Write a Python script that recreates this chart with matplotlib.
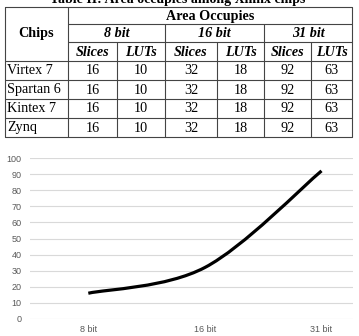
import matplotlib.pyplot as plt
from matplotlib.path import Path
from matplotlib.patches import PathPatch

chips = ['Virtex 7', 'Spartan 6', 'Kintex 7', 'Zynq']
bit_groups = ['8 bit', '16 bit', '31 bit']
sub_cols = ['Slices', 'LUTs']
slices = [16, 32, 92]
luts = [10, 18, 63]
title = 'Table II: Area occupies among Xilinx chips'

W, H = 359, 336
fig = plt.figure(figsize=(W / 100, H / 100), dpi=100)
fig.patch.set_facecolor('white')

serif = ['Liberation Serif', 'DejaVu Serif']
sans = ['Liberation Sans', 'DejaVu Sans']

# title, cut off at the top edge like in the screenshot
fig.text(178 / W, 1.0, title, ha='center', va='center', fontsize=10,
         family=serif, fontweight='bold')

# ---- table ----
tx0, tx1, ty0, ty1 = 5, 352, 7, 137
tax = fig.add_axes([tx0 / W, 1 - ty1 / H, (tx1 - tx0) / W, (ty1 - ty0) / H])
tax.set_xlim(tx0, tx1)
tax.set_ylim(ty1, ty0)
tax.axis('off')

cols = [5, 68, 117, 165, 217, 264, 311, 352]
rows = [7, 24, 42, 61, 80, 99, 118, 137]
lc = '#444444'
lw = 0.8
kw = dict(color=lc, lw=lw, clip_on=False, solid_capstyle='butt')
# outer box
tax.plot([tx0, tx1, tx1, tx0, tx0], [ty0, ty0, ty1, ty1, ty0], **kw)
tax.plot([cols[1], cols[1]], [ty0, ty1], **kw)
tax.plot([cols[1], tx1], [rows[1], rows[1]], **kw)
tax.plot([cols[1], tx1], [rows[2], rows[2]], **kw)
for r in rows[3:-1]:
    tax.plot([tx0, tx1], [r, r], **kw)
for c in (cols[3], cols[5]):
    tax.plot([c, c], [rows[1], ty1], **kw)
for c in (cols[2], cols[4], cols[6]):
    tax.plot([c, c], [rows[2], ty1], **kw)

fs = 10.2
tax.text((cols[0] + cols[1]) / 2, (rows[0] + rows[3]) / 2, 'Chips',
         ha='center', va='center', fontsize=fs, family=serif, fontweight='bold')
tax.text((cols[1] + cols[7]) / 2, (rows[0] + rows[1]) / 2 + 1, 'Area Occupies',
         ha='center', va='center', fontsize=fs, family=serif, fontweight='bold')
for i, g in enumerate(bit_groups):
    xc = (cols[1 + 2 * i] + cols[3 + 2 * i]) / 2
    tax.text(xc, (rows[1] + rows[2]) / 2 + 0.5, g, ha='center', va='center',
             fontsize=fs, family=serif, fontweight='bold', style='italic')
    for j, s in enumerate(sub_cols):
        xs = (cols[1 + 2 * i + j] + cols[2 + 2 * i + j]) / 2
        tax.text(xs, (rows[2] + rows[3]) / 2 + 0.5, s, ha='center', va='center',
                 fontsize=fs, family=serif, fontweight='bold', style='italic')
for k, chip in enumerate(chips):
    yc = (rows[3 + k] + rows[4 + k]) / 2 + 0.5
    tax.text(cols[0] + 2, yc, chip, ha='left', va='center', fontsize=fs, family=serif)
    for i in range(3):
        for j, v in enumerate((slices[i], luts[i])):
            xs = (cols[1 + 2 * i + j] + cols[2 + 2 * i + j]) / 2
            tax.text(xs, yc, str(v), ha='center', va='center', fontsize=fs, family=serif)

# ---- line chart ----
ax = fig.add_axes([30 / W, 1 - 319 / H, (353 - 30) / W, (319 - 158) / H])
x = list(range(len(bit_groups)))
y = slices

# smoothed line (Catmull-Rom style bezier, like Excel smoothing)
pts = list(zip(x, y))
verts = [pts[0]]
codes = [Path.MOVETO]
for i in range(len(pts) - 1):
    p0 = pts[max(i - 1, 0)]
    p1 = pts[i]
    p2 = pts[i + 1]
    p3 = pts[min(i + 2, len(pts) - 1)]
    c1 = (p1[0] + (p2[0] - p0[0]) / 6, p1[1] + (p2[1] - p0[1]) / 6)
    c2 = (p2[0] - (p3[0] - p1[0]) / 6, p2[1] - (p3[1] - p1[1]) / 6)
    verts += [c1, c2, p2]
    codes += [Path.CURVE4] * 3
ax.add_patch(PathPatch(Path(verts, codes), fill=False, edgecolor='black',
                       lw=2.3, capstyle='butt', zorder=3))

ax.set_xlim(-0.5, 2.27)
ax.set_ylim(0, 100)
ax.set_yticks(range(0, 101, 10))
ax.set_xticks(x)
ax.set_xticklabels(bit_groups)
ax.grid(axis='y', color='#d9d9d9', lw=0.8)
ax.set_axisbelow(True)
for s in ax.spines.values():
    s.set_visible(False)
ax.tick_params(length=0, labelsize=6.5, labelcolor='#595959', pad=6)
ax.tick_params(axis='x', pad=4)
for lab in ax.get_xticklabels() + ax.get_yticklabels():
    lab.set_family(sans)

fig.savefig('out.png', dpi=100, facecolor='white')
